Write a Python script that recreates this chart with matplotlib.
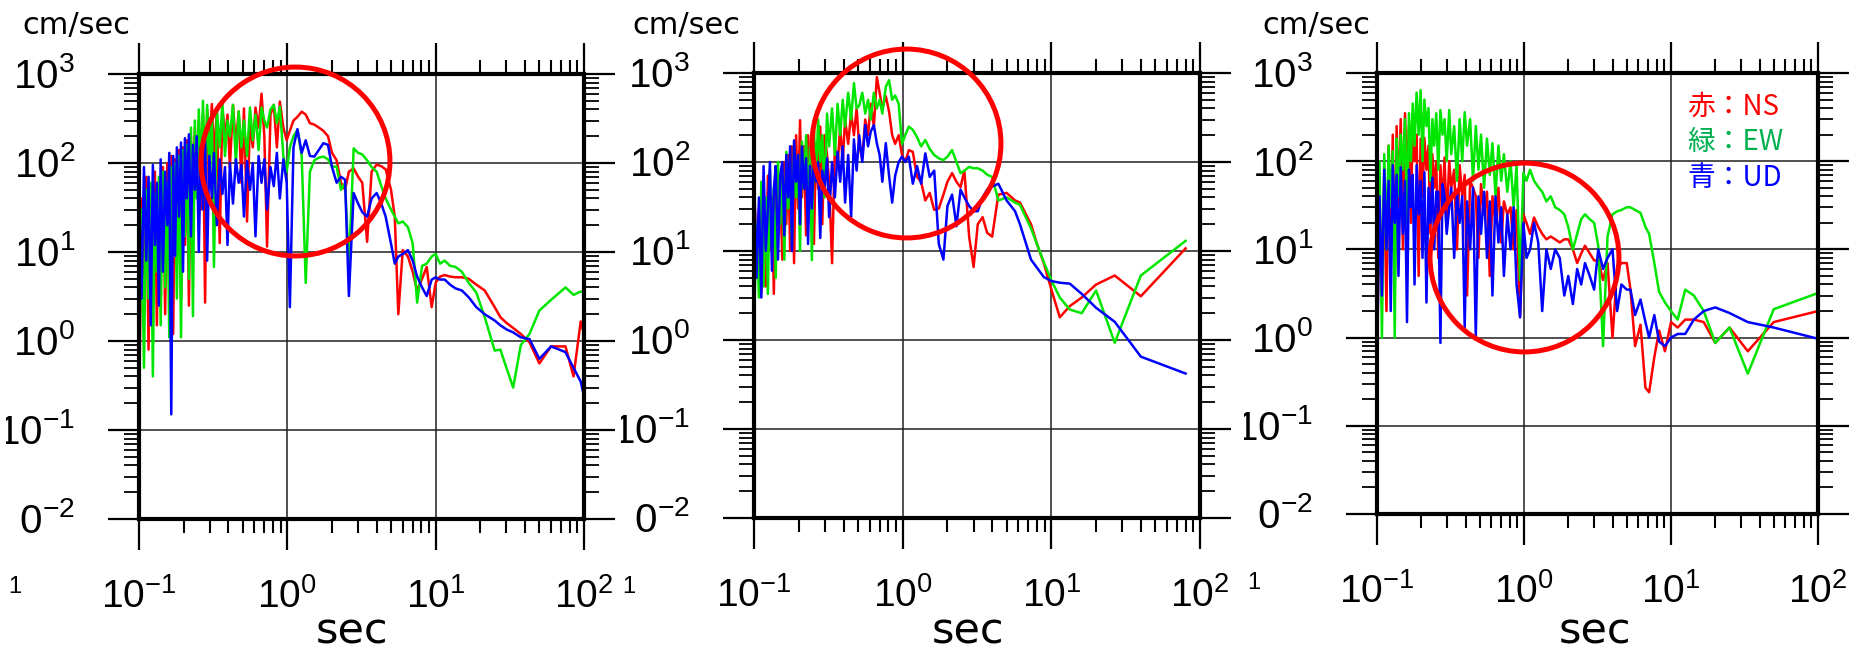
import numpy as np
import matplotlib
matplotlib.use("Agg")
import matplotlib.pyplot as plt
from matplotlib.ticker import LogLocator, NullFormatter
from matplotlib.transforms import Bbox

plt.rcParams['font.family'] = ['DejaVu Sans']
plt.rcParams['mathtext.fontset'] = 'custom'
plt.rcParams['mathtext.rm'] = 'Liberation Sans'
plt.rcParams['mathtext.it'] = 'Liberation Sans:italic'
plt.rcParams['mathtext.bf'] = 'Liberation Sans:bold'

# ---------------------------------------------------------------- data
# periods (sec), shared short-period part
T_SHORT = [0.100, 0.104, 0.108, 0.112, 0.116, 0.120, 0.124, 0.128, 0.132, 0.136,
           0.140, 0.145, 0.150, 0.155, 0.160, 0.165, 0.170, 0.175, 0.180, 0.186,
           0.192, 0.198, 0.204, 0.210, 0.217, 0.224, 0.231, 0.238, 0.245, 0.253,
           0.261, 0.270, 0.279, 0.288, 0.298, 0.310, 0.320, 0.335, 0.350, 0.365,
           0.380, 0.395, 0.410, 0.430, 0.450, 0.470, 0.490, 0.510, 0.535, 0.560,
           0.585, 0.610, 0.640, 0.670, 0.700, 0.730, 0.770, 0.810, 0.850, 0.890,
           0.940, 0.990, 1.04, 1.10, 1.17, 1.25, 1.33, 1.42, 1.52, 1.63,
           1.75, 1.88, 2.00, 2.15, 2.30, 2.45, 2.60, 2.80, 3.00]

# ---- panel 1
P1_T_LONG = [3.2, 3.45, 3.7, 4.0, 4.3, 4.6, 5.0, 5.3, 5.6, 6.0, 6.5, 7.0, 7.5, 8.1,
             8.7, 9.4, 10.0, 10.7, 11.5, 12.5, 13.6, 15.0, 16.7, 18.8, 21.4, 25.0,
             27.3, 30.0, 33.3, 37.5, 42.9, 50.0, 60.0, 75.0, 85.0, 95.0, 100.0]
P1_NS_S = [0.11, 40, 2, 70, 0.8, 50, 5, 80, 1.5, 60,
           8, 90, 2, 100, 4, 120, 1.2, 110, 7, 140,
           3, 150, 12, 180, 2.5, 200, 40, 250, 60, 300,
           30, 350, 2.7, 400, 150, 460, 120, 380, 12.6, 420,
           200, 350, 90, 450, 160, 380, 60, 410, 22, 300,
           150, 420, 250, 600, 200, 11.5, 350, 450, 150, 490,
           250, 180, 230, 300, 330, 377, 350, 280, 270, 250,
           230, 200, 130, 107, 60, 50, 80, 87, 70]
P1_NS_L = [60, 13, 80, 96, 92, 85, 50, 25, 2.0, 10.5, 8.9, 6, 3.7, 5, 6.8, 2.4, 4.5,
           5.3, 5.5, 5.3, 5.2, 5.2, 5.0, 4.3, 3.7, 2.4, 1.85, 1.6, 1.4, 1.2, 0.97,
           0.56, 0.87, 0.87, 0.4, 1.66, 1.2]
P1_EW_S = [0.33, 30, 0.5, 50, 3, 60, 0.4, 45, 6, 70,
           1.5, 80, 4, 60, 1.1, 90, 10, 100, 3, 120,
           1.1, 140, 15, 160, 5, 250, 1.9, 300, 40, 400,
           80, 500, 60, 450, 100, 350, 6.8, 400, 150, 480,
           120, 300, 200, 450, 100, 380, 150, 300, 120, 420,
           180, 350, 140, 420, 300, 250, 400, 450, 280, 430,
           120, 80, 150, 200, 235, 120, 4.5, 80, 107, 115,
           118, 110, 91, 91, 50, 60, 6.8, 146, 130]
P1_EW_L = [125, 107, 90, 80, 55, 40, 30, 25, 21, 22, 19, 12.5, 2.7, 7, 7.4, 8.9, 9.5,
           7.4, 8, 7, 6.8, 6, 4.5, 3.5, 1.86, 0.78, 0.8, 0.5, 0.3, 0.9, 1.2, 2.2,
           2.9, 4.0, 3.3, 3.6, 3.5]
P1_UD_S = [60, 3, 90, 8, 70, 1.5, 95, 12, 60, 2.5,
           110, 6, 80, 20, 130, 0.15, 120, 9, 150, 25,
           170, 6, 190, 40, 210, 15, 160, 50, 200, 10,
           150, 30, 180, 8, 120, 40, 130, 20, 110, 45,
           90, 12, 100, 35, 110, 60, 95, 25, 105, 50,
           100, 15, 120, 60, 110, 30, 90, 55, 130, 40,
           110, 60, 2.4, 150, 240, 130, 180, 120, 118, 140,
           167, 160, 90, 60, 70, 65, 3.2, 46, 35]
P1_UD_L = [28, 25, 40, 46, 35, 25, 12.4, 7.4, 8.9, 9.5, 10.5, 8, 5.3, 4, 3.2, 4.9,
           5.2, 4.9, 4.9, 4.3, 3.9, 3.7, 3.1, 2.4, 2.0, 1.7, 1.5, 1.35, 1.25, 1.1,
           1.05, 0.63, 0.87, 0.75, 0.5, 0.35, 0.24]

# ---- panel 2
P2_T_LONG = [3.2, 3.45, 3.7, 4.0, 4.4, 5.0, 5.7, 6.15, 7.3, 8.0, 8.9, 10.0, 11.4,
             13.3, 16.0, 20.0, 26.7, 40.0, 80.0]
P2_NS_S = [60, 8, 30, 3.4, 50, 4, 70, 10, 40, 3.3,
           90, 15, 60, 8, 100, 20, 120, 10, 150, 7.3,
           200, 30, 295, 40, 150, 15, 200, 60, 180, 12,
           160, 50, 250, 20, 200, 120, 60, 7.3, 150, 90,
           250, 100, 300, 160, 355, 200, 400, 150, 110, 300,
           200, 450, 250, 900, 600, 400, 550, 370, 200, 160,
           200, 120, 100, 136, 130, 68, 60, 37, 45, 29,
           30, 43, 60, 75, 60, 52, 80, 14.5, 6.6]
P2_NS_L = [20, 24, 16, 14.5, 43, 45, 37, 35, 20, 12, 7.3, 3.7, 1.8, 2.4, 3.0, 4.2,
           5.3, 3.1, 10.7]
P2_EW_S = [1.5, 20, 3, 60, 4, 40, 3.3, 80, 10, 50,
           5, 100, 20, 70, 8, 130, 30, 100, 12, 150,
           40, 120, 10, 170, 50, 200, 25, 150, 7.9, 250,
           60, 300, 100, 200, 40, 350, 150, 400, 120, 450,
           200, 500, 250, 600, 300, 770, 400, 430, 600, 350,
           500, 300, 600, 400, 500, 350, 700, 830, 500, 560,
           450, 160, 200, 250, 230, 190, 150, 177, 140, 120,
           110, 105, 115, 136, 100, 75, 80, 88, 85]
P2_EW_L = [85, 80, 72, 68, 37, 40, 35, 33, 18, 12, 7.5, 4.7, 3.0, 2.2, 2.0, 3.6,
           0.93, 5.3, 13]
P2_UD_S = [80, 5, 40, 3, 90, 10, 30, 100, 6, 50,
           90, 8, 70, 100, 15, 120, 40, 150, 10, 175,
           60, 120, 20, 150, 50, 110, 12, 90, 30, 120,
           60, 100, 14, 80, 50, 110, 24, 100, 40, 130,
           60, 150, 35, 120, 24, 180, 80, 200, 100, 260,
           150, 220, 260, 163, 120, 60, 163, 70, 35, 70,
           100, 115, 100, 115, 57, 90, 57, 125, 68, 80,
           12, 8, 32, 43, 19, 49, 40, 32, 28]
P2_UD_L = [28, 40, 49, 53, 57, 37, 28, 20, 8, 6.5, 5.1, 4.6, 4.4, 4.3, 3.3, 2.3,
           1.6, 0.65, 0.42]

# ---- panel 3
P3_T_LONG = [3.2, 3.45, 3.7, 4.0, 4.3, 4.6, 5.0, 5.3, 5.7, 6.2, 6.7, 7.1, 7.7, 8.3,
             9.1, 10.0, 11.1, 12.5, 14.3, 16.7, 20.0, 25.0, 33.3, 50.0, 100.0]
P3_NS_S = [0.8, 30, 5, 60, 2, 150, 8, 200, 4, 250,
           30, 300, 10, 350, 60, 250, 20, 300, 100, 200,
           5, 180, 40, 184, 80, 150, 15, 120, 50, 100,
           8, 90, 30, 110, 20, 100, 50, 80, 10, 90,
           40, 70, 3, 60, 50, 40, 8, 55, 25, 45,
           5, 40, 20, 50, 12, 35, 25, 30, 10, 28,
           1.7, 25, 20, 15, 23, 18, 15, 13, 14, 13,
           12, 13, 13, 10, 7, 9, 11, 9, 7.5]
P3_NS_L = [7.5, 4.5, 7, 1.0, 6, 7, 7, 3.5, 0.8, 1.4, 0.27, 0.24, 0.6, 1.2, 0.7, 1.5,
           1.3, 1.6, 1.6, 1.5, 0.87, 1.3, 0.7, 1.5, 2.0]
P3_EW_S = [5, 100, 1.0, 120, 10, 150, 30, 130, 1.0, 180,
           40, 200, 80, 300, 20, 350, 100, 450, 150, 600,
           200, 640, 100, 500, 250, 400, 60, 300, 150, 350,
           80, 380, 200, 300, 100, 380, 120, 250, 60, 300,
           100, 360, 150, 300, 60, 250, 80, 200, 50, 180,
           70, 160, 40, 150, 60, 120, 45, 100, 30, 90,
           4.5, 74, 60, 80, 60, 51, 45, 35, 40, 30,
           28, 25, 18, 10, 15, 22, 25, 22, 20]
P3_EW_L = [11, 0.8, 14, 25, 27, 28, 30, 30, 28, 26, 18, 15, 7, 3.3, 2.5, 2.0, 1.6,
           3.5, 3.0, 2.0, 0.87, 1.3, 0.39, 2.1, 3.2]
P3_UD_S = [0.46, 40, 3, 80, 10, 60, 2, 90, 20, 70,
           5, 85, 15, 60, 1.5, 80, 30, 70, 4, 90,
           25, 60, 8, 75, 2.5, 50, 20, 65, 10, 45,
           45, 0.87, 55, 40, 15, 30, 50, 8, 45, 20,
           40, 1.3, 35, 10, 50, 1.0, 40, 15, 45, 8,
           35, 3, 40, 12, 30, 5, 25, 10, 30, 4,
           1.7, 20, 8, 10, 20, 12, 2.0, 10, 6, 10,
           8, 3, 5, 2.4, 6, 4, 7, 5, 3.5]
P3_UD_L = [10, 6, 8, 10, 2.0, 4, 3.5, 3.5, 1.8, 2.7, 1.5, 1.0, 1.8, 0.9, 0.8, 1.0,
           1.1, 1.1, 1.6, 2.0, 2.2, 1.9, 1.5, 1.3, 0.97]

X_DECADES = [-1, 0, 1, 2]
Y_DECADES = [3, 2, 1, 0, -1, -2]
LEGEND_LABELS = ['赤：NS', '緑：EW', '青：UD']
Y_UNIT = 'cm/sec'
X_UNIT = 'sec'
STRAY_LABEL = '1'
# highlighted regions (centre period, centre amplitude) of the red circles
CIRCLE_T = [1.12, 1.06, 1.0]
CIRCLE_A = [106, 163, 8.2]

PANEL_T = [T_SHORT + P1_T_LONG, T_SHORT + P2_T_LONG, T_SHORT + P3_T_LONG]
PANEL_SERIES = [
    [P1_NS_S + P1_NS_L, P1_EW_S + P1_EW_L, P1_UD_S + P1_UD_L],
    [P2_NS_S + P2_NS_L, P2_EW_S + P2_EW_L, P2_UD_S + P2_UD_L],
    [P3_NS_S + P3_NS_L, P3_EW_S + P3_EW_L, P3_UD_S + P3_UD_L],
]

# ---------------------------------------------------------------- layout / style
W, H = 1863, 655
AX_PX = [(139, 74, 584, 519), (754, 73, 1200, 518), (1377, 73, 1818, 514)]
UNIT_X_PX = [22, 632, 1262]
UNIT_BASE_PX = 34
SEC_X_PX = [352, 968, 1595]
SEC_BASE_PX = 643
STRAY_X_PX = [15, 629, 1254]
STRAY_BASE_PX = [593, 593, 589]
LINE_COLORS = ['#ff0000', '#00e600', '#0000ff']
LEGEND_COLORS = ['#ff0000', '#00b050', '#0000ff']
LEGEND_X_PX = 1687
LEGEND_BASE_PX = [115, 150, 186]
TICK_FS = 29

fig = plt.figure(figsize=(W / 100, H / 100), dpi=100)


def rect(l, t, r, b):
    return [l / W, 1 - b / H, (r - l) / W, (b - t) / H]


clip_targets = []
for i, px in enumerate(AX_PX):
    ax = fig.add_axes(rect(*px))
    for series, color in zip(PANEL_SERIES[i], LINE_COLORS):
        ax.plot(PANEL_T[i], series, color=color, lw=1.8, zorder=2)
    ax.set_xscale('log')
    ax.set_yscale('log')
    ax.set_xlim(0.1, 100)
    ax.set_ylim(0.01, 1000)
    for axis in (ax.xaxis, ax.yaxis):
        axis.set_major_locator(LogLocator(base=10, numticks=20))
        axis.set_minor_locator(LogLocator(base=10, subs=np.arange(2, 10), numticks=20))
        axis.set_major_formatter(NullFormatter())
        axis.set_minor_formatter(NullFormatter())
    ax.tick_params(which='both', direction='out', top=True, right=True,
                   labelbottom=False, labelleft=False, color='black')
    ax.tick_params(which='major', length=22, width=1.6)
    ax.tick_params(axis='x', which='minor', length=10, width=1.5)
    ax.tick_params(axis='y', which='minor', length=11, width=1.3)
    for s in ax.spines.values():
        s.set_linewidth(3.0)
        s.set_zorder(4)
    ax.grid(True, which='major', color='#202020', lw=1.1)
    ax.grid(False, which='minor')

    # highlight circle
    ax.plot([CIRCLE_T[i]], [CIRCLE_A[i]], marker='o', ms=136, mfc='none',
            mec='#ff0000', mew=3.6, clip_on=False, zorder=6)

    # y tick labels
    for k in Y_DECADES:
        ann = ax.annotate('$10^{%d}$' % k, xy=(0, 10.0 ** k),
                          xycoords=('axes fraction', 'data'),
                          xytext=(-46, -10.4), textcoords='offset points',
                          ha='right', va='baseline', fontsize=TICK_FS,
                          annotation_clip=False)
        if k < 0:
            clip_targets.append((ann, k))
    # x tick labels
    for k in X_DECADES:
        ax.annotate('$10^{%d}$' % k, xy=(10.0 ** k, 0),
                    xycoords=('data', 'axes fraction'),
                    xytext=(0, -64), textcoords='offset points',
                    ha='center', va='baseline', fontsize=28,
                    annotation_clip=False)

    fig.text(UNIT_X_PX[i] / W, 1 - UNIT_BASE_PX / H, Y_UNIT, ha='left',
             va='baseline', fontsize=22)
    fig.text(SEC_X_PX[i] / W, 1 - SEC_BASE_PX / H, X_UNIT, ha='center',
             va='baseline', fontsize=31)
    fig.text(STRAY_X_PX[i] / W, 1 - STRAY_BASE_PX[i] / H, STRAY_LABEL,
             ha='center', va='baseline', fontsize=17, family='Liberation Sans')

for lab, col, yb in zip(LEGEND_LABELS, LEGEND_COLORS, LEGEND_BASE_PX):
    fig.text(LEGEND_X_PX / W, 1 - yb / H, lab, color=col, fontsize=20,
             family=['Noto Sans CJK JP', 'DejaVu Sans'], ha='left', va='baseline')

# the negative-decade labels are cut at their left side in the reference
fig.canvas.draw()
renderer = fig.canvas.get_renderer()
em = TICK_FS * fig.dpi / 72
for ann, k in clip_targets:
    bb = ann.get_window_extent(renderer)
    frac = 0.22 if k == -1 else 0.60
    ann.set_clip_box(Bbox.from_extents(bb.x0 + frac * em, 0,
                                       fig.bbox.width, fig.bbox.height))
    ann.set_clip_on(True)

fig.savefig('out.png', dpi=100)
